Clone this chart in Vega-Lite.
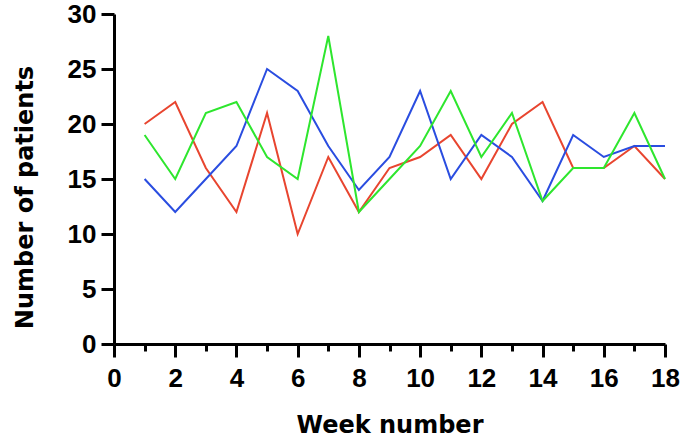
{
  "$schema": "https://vega.github.io/schema/vega-lite/v6.json",
  "width": 551,
  "height": 330,
  "autosize": {"type": "none"},
  "padding": {"left": 114, "top": 14, "right": 23, "bottom": 96},
  "background": "white",
  "config": {
    "view": {"stroke": null},
    "axis": {
      "domainColor": "black",
      "domainWidth": 3,
      "tickColor": "black",
      "tickWidth": 3,
      "grid": false,
      "labelFont": "Liberation Sans",
      "labelFontWeight": "bold",
      "labelFontSize": 26,
      "labelColor": "black",
      "titleFont": "DejaVu Sans",
      "titleFontWeight": "bold",
      "titleFontSize": 24,
      "titleColor": "black"
    }
  },
  "data": {
    "values": [
      {"week": 1, "series": "Series 1", "patients": 20},
      {"week": 2, "series": "Series 1", "patients": 22},
      {"week": 3, "series": "Series 1", "patients": 16},
      {"week": 4, "series": "Series 1", "patients": 12},
      {"week": 5, "series": "Series 1", "patients": 21},
      {"week": 6, "series": "Series 1", "patients": 10},
      {"week": 7, "series": "Series 1", "patients": 17},
      {"week": 8, "series": "Series 1", "patients": 12},
      {"week": 9, "series": "Series 1", "patients": 16},
      {"week": 10, "series": "Series 1", "patients": 17},
      {"week": 11, "series": "Series 1", "patients": 19},
      {"week": 12, "series": "Series 1", "patients": 15},
      {"week": 13, "series": "Series 1", "patients": 20},
      {"week": 14, "series": "Series 1", "patients": 22},
      {"week": 15, "series": "Series 1", "patients": 16},
      {"week": 16, "series": "Series 1", "patients": 16},
      {"week": 17, "series": "Series 1", "patients": 18},
      {"week": 18, "series": "Series 1", "patients": 15},
      {"week": 1, "series": "Series 2", "patients": 15},
      {"week": 2, "series": "Series 2", "patients": 12},
      {"week": 3, "series": "Series 2", "patients": 15},
      {"week": 4, "series": "Series 2", "patients": 18},
      {"week": 5, "series": "Series 2", "patients": 25},
      {"week": 6, "series": "Series 2", "patients": 23},
      {"week": 7, "series": "Series 2", "patients": 18},
      {"week": 8, "series": "Series 2", "patients": 14},
      {"week": 9, "series": "Series 2", "patients": 17},
      {"week": 10, "series": "Series 2", "patients": 23},
      {"week": 11, "series": "Series 2", "patients": 15},
      {"week": 12, "series": "Series 2", "patients": 19},
      {"week": 13, "series": "Series 2", "patients": 17},
      {"week": 14, "series": "Series 2", "patients": 13},
      {"week": 15, "series": "Series 2", "patients": 19},
      {"week": 16, "series": "Series 2", "patients": 17},
      {"week": 17, "series": "Series 2", "patients": 18},
      {"week": 18, "series": "Series 2", "patients": 18},
      {"week": 1, "series": "Series 3", "patients": 19},
      {"week": 2, "series": "Series 3", "patients": 15},
      {"week": 3, "series": "Series 3", "patients": 21},
      {"week": 4, "series": "Series 3", "patients": 22},
      {"week": 5, "series": "Series 3", "patients": 17},
      {"week": 6, "series": "Series 3", "patients": 15},
      {"week": 7, "series": "Series 3", "patients": 28},
      {"week": 8, "series": "Series 3", "patients": 12},
      {"week": 9, "series": "Series 3", "patients": 15},
      {"week": 10, "series": "Series 3", "patients": 18},
      {"week": 11, "series": "Series 3", "patients": 23},
      {"week": 12, "series": "Series 3", "patients": 17},
      {"week": 13, "series": "Series 3", "patients": 21},
      {"week": 14, "series": "Series 3", "patients": 13},
      {"week": 15, "series": "Series 3", "patients": 16},
      {"week": 16, "series": "Series 3", "patients": 16},
      {"week": 17, "series": "Series 3", "patients": 21},
      {"week": 18, "series": "Series 3", "patients": 15}
    ]
  },
  "resolve": {"axis": {"x": "independent"}},
  "layer": [
    {
      "mark": {"type": "line", "strokeWidth": 2},
      "encoding": {
        "x": {
          "field": "week", "type": "quantitative",
          "scale": {"domain": [0, 18], "nice": false, "zero": false},
          "axis": {
            "orient": "bottom",
            "title": "Week number",
            "values": [0, 2, 4, 6, 8, 10, 12, 14, 16, 18],
            "tickSize": 13,
            "labelPadding": 8,
            "titlePadding": 22,
            "labelFlush": false,
            "labelOverlap": false
          }
        },
        "y": {
          "field": "patients", "type": "quantitative",
          "scale": {"domain": [0, 30], "nice": false},
          "axis": {
            "title": "Number of patients",
            "values": [0, 5, 10, 15, 20, 25, 30],
            "tickSize": 13,
            "labelPadding": 5,
            "titlePadding": 30,
            "titleY": 183,
            "labelFlush": false
          }
        },
        "color": {
          "field": "series", "type": "nominal",
          "scale": {"domain": ["Series 1", "Series 2", "Series 3"], "range": ["#e8452f", "#2a4de0", "#2ee62e"]},
          "legend": null
        }
      }
    },
    {
      "mark": {"type": "line", "strokeWidth": 2, "opacity": 0},
      "encoding": {
        "x": {
          "field": "week", "type": "quantitative",
          "scale": {"domain": [0, 18], "nice": false, "zero": false},
          "axis": {
            "orient": "bottom",
            "title": null,
            "values": [1, 3, 5, 7, 9, 11, 13, 15, 17],
            "tickSize": 7,
            "labels": false,
            "domain": false
          }
        },
        "y": {"field": "patients", "type": "quantitative"},
        "detail": {"field": "series"}
      }
    }
  ]
}
